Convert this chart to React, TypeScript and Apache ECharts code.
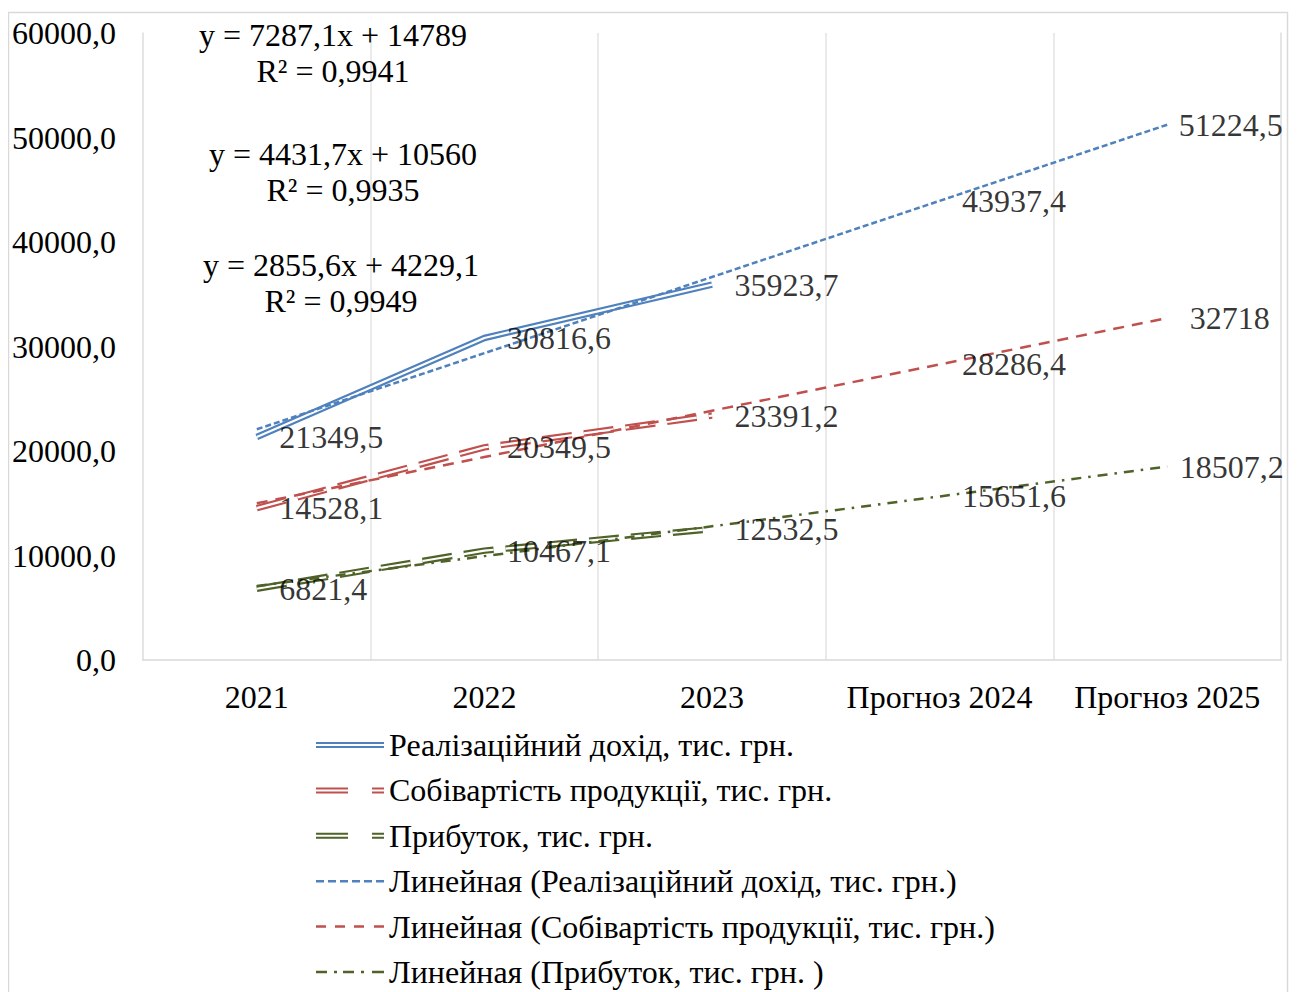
import React, { useEffect, useRef } from "react";
import * as echarts from "echarts";

const categories = ["2021", "2022", "2023", "Прогноз 2024", "Прогноз 2025"];
const revenue = [21349.5, 30816.6, 35923.7, 43937.4, 51224.5];
const cost = [14528.1, 20349.5, 23391.2, 28286.4, 32718];
const profit = [6821.4, 10467.1, 12532.5, 15651.6, 18507.2];
const revenueTrend = [22076.1, 29363.2, 36650.3, 43937.4, 51224.5];
const costTrend = [14991.7, 19423.4, 23855.1, 28286.8, 32718.5];
const profitTrend = [7084.7, 9940.3, 12795.9, 15651.5, 18507.1];
const actualCount = 3;
const yTicks = [0, 10000, 20000, 30000, 40000, 50000, 60000];
const seriesNames = [
  "Реалізаційний дохід, тис. грн.",
  "Собівартість продукції, тис. грн.",
  "Прибуток, тис. грн.",
];
const trendNames = [
  "Линейная (Реалізаційний дохід, тис. грн.)",
  "Линейная (Собівартість продукції, тис. грн.)",
  "Линейная (Прибуток, тис. грн. )",
];
const equations = ["y = 7287,1x + 14789", "y = 4431,7x + 10560", "y = 2855,6x + 4229,1"];
const rSquared = ["R² = 0,9941", "R² = 0,9935", "R² = 0,9949"];

const BLUE = "#4F81BD";
const RED = "#C0504D";
const GREEN = "#4F6228";
const FONT = "'Liberation Serif', 'Times New Roman', serif";
const FS = 32;

const fmt = (v: number) => v.toFixed(1).replace(".", ",");
const fmtLabel = (v: number) => String(v).replace(".", ",");

export default function App() {
  const ref = useRef<HTMLDivElement>(null);
  useEffect(() => {
    if (!ref.current) return;
    const chart = echarts.init(ref.current, undefined, { renderer: "svg" });

    const actual = (arr: number[]) => arr.map((v, i) => (i < actualCount ? v : null));

    const doubleLine = (name: string, arr: number[], color: string, dash: number[] | "solid") => [
      {
        name,
        type: "line",
        data: actual(arr),
        symbol: "none",
        itemStyle: { color },
        lineStyle: { color, width: 6.5, type: dash, cap: "butt" },
        z: 2,
      },
      {
        name: name + "_inner",
        type: "line",
        data: actual(arr),
        symbol: "none",
        itemStyle: { color: "#fff" },
        lineStyle: { color: "#fff", width: 2.2, type: dash, cap: "butt" },
        z: 2,
      },
    ];

    const trend = (name: string, arr: number[], color: string, dash: number[]) => ({
      name,
      type: "line",
      data: arr,
      symbol: "none",
      itemStyle: { color },
      lineStyle: { color, width: 2.5, type: dash, cap: "butt" },
      z: 3,
    });

    const labels = (arr: number[], edgeDist: number | null) => ({
      name: "lbl",
      type: "scatter",
      data: arr.map((v, i) =>
        i === arr.length - 1 && edgeDist !== null
          ? { value: v, label: { distance: edgeDist } }
          : v
      ),
      symbolSize: 1,
      itemStyle: { color: "rgba(0,0,0,0)" },
      label: {
        show: true,
        position: "right",
        distance: 22,
        color: "#000",
        fontFamily: FONT,
        fontSize: FS,
        formatter: (p: any) => fmtLabel(p.value),
      },
      z: 4,
    });

    const eqGraphics: any[] = [];
    const eqPos = [
      [325, 27],
      [335, 146],
      [333, 257],
    ];
    equations.forEach((eq, i) => {
      eqGraphics.push({
        type: "text",
        x: eqPos[i][0],
        y: eqPos[i][1],
        style: { text: eq, font: `${FS}px ${FONT}`, fill: "#000", textAlign: "center", textVerticalAlign: "middle" },
        z: 10,
      });
      eqGraphics.push({
        type: "text",
        x: eqPos[i][0],
        y: eqPos[i][1] + 36,
        style: { text: rSquared[i], font: `${FS}px ${FONT}`, fill: "#000", textAlign: "center", textVerticalAlign: "middle" },
        z: 10,
      });
    });

    const option: any = {
      animation: false,
      backgroundColor: "#fff",
      grid: { left: 135, top: 25, width: 1138, height: 627, containLabel: false },
      xAxis: {
        type: "category",
        data: categories,
        boundaryGap: true,
        axisLine: { show: true, lineStyle: { color: "#d9d9d9", width: 1.5 } },
        axisTick: { show: false },
        splitLine: { show: true, lineStyle: { color: "#e3e3e3", width: 1.5 } },
        axisLabel: { color: "#000", fontFamily: FONT, fontSize: FS, margin: 21, interval: 0 },
      },
      yAxis: [
        {
          type: "value",
          min: 0,
          max: yTicks[yTicks.length - 1],
          interval: yTicks[1] - yTicks[0],
          axisLine: { show: true, lineStyle: { color: "#e3e3e3", width: 1.5 } },
          axisTick: { show: false },
          splitLine: {
            show: true,
            lineStyle: {
              color: "#d9d9d9",
              width: 1.5,
              shadowColor: "rgba(0,0,0,0.10)",
              shadowBlur: 4,
              shadowOffsetY: 3,
            },
          },
          axisLabel: { color: "#000", fontFamily: FONT, fontSize: FS, margin: 27, formatter: fmt },
        },
        {
          type: "value",
          position: "right",
          min: 0,
          max: yTicks[yTicks.length - 1],
          interval: yTicks[1] - yTicks[0],
          axisLine: { show: true, lineStyle: { color: "#e3e3e3", width: 1.5 } },
          axisTick: { show: false },
          axisLabel: { show: false },
          splitLine: { show: false },
        },
      ],
      legend: {
        orient: "vertical",
        left: 303,
        top: 716,
        height: 320,
        itemWidth: 68,
        itemHeight: 8,
        itemGap: 13.4,
        symbolKeepAspect: true,
        textStyle: { color: "#000", fontFamily: FONT, fontSize: FS },
        itemStyle: { borderWidth: 0 },
        selectedMode: false,
        data: [
          { name: seriesNames[0], icon: "path://M0,0H68V2H0Z M0,4H68V6H0Z" },
          {
            name: seriesNames[1],
            icon: "path://M0,0H32V2H0Z M0,4H32V6H0Z M56,0H68V2H56Z M56,4H68V6H56Z",
          },
          {
            name: seriesNames[2],
            icon: "path://M0,0H32V2H0Z M0,4H32V6H0Z M56,0H68V2H56Z M56,4H68V6H56Z",
          },
          {
            name: trendNames[0],
            icon: "path://M0,0H8V2.5H0Z M12,0H20V2.5H12Z M24,0H32V2.5H24Z M36,0H44V2.5H36Z M48,0H56V2.5H48Z M60,0H68V2.5H60Z",
          },
          {
            name: trendNames[1],
            icon: "path://M0,0H10V2.5H0Z M19,0H29V2.5H19Z M38,0H48V2.5H38Z M58,0H68V2.5H58Z",
          },
          {
            name: trendNames[2],
            icon: "path://M0,0H11V2.5H0Z M18,0H21V2.5H18Z M27,0H38V2.5H27Z M45,0H48V2.5H45Z M56,0H68V2.5H56Z",
          },
        ],
      },
      graphic: [
        {
          type: "rect",
          shape: { x: 0.5, y: 4.5, width: 1279, height: 1000 },
          style: { fill: "none", stroke: "#d9d9d9", lineWidth: 1.5 },
          silent: true,
        },
        ...eqGraphics,
      ],
      series: [
        ...doubleLine(seriesNames[0], revenue, BLUE, "solid"),
        ...doubleLine(seriesNames[1], cost, RED, [30, 12]),
        ...doubleLine(seriesNames[2], profit, GREEN, [30, 12]),
        trend(trendNames[0], revenueTrend, BLUE, [6, 3]),
        trend(trendNames[1], costTrend, RED, [11, 8]),
        trend(trendNames[2], profitTrend, GREEN, [10, 7, 2.5, 7]),
        labels(revenue, 11),
        labels(cost, null),
        labels(profit, 12),
      ],
    };
    chart.setOption(option);
    return () => chart.dispose();
  }, []);
  return <div ref={ref} style={{ width: 1289, height: 984 }} />;
}
